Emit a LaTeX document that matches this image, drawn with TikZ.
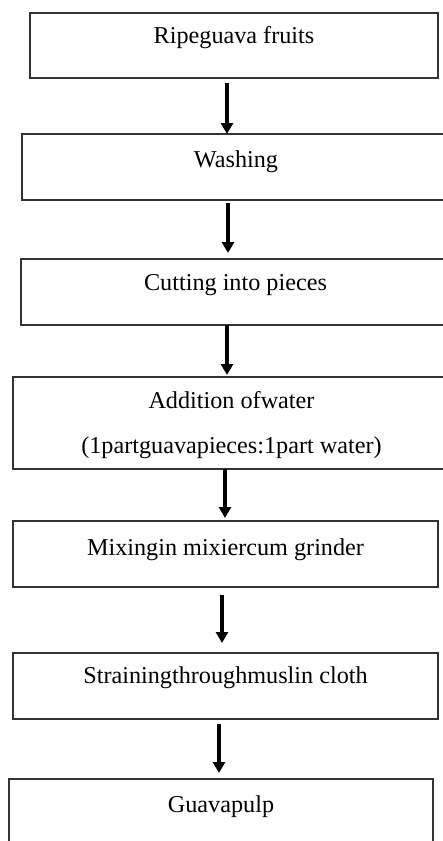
\documentclass[tikz,border=0pt]{standalone}
\usepackage{fontspec}
\setmainfont{Liberation Serif}
\usetikzlibrary{arrows.meta}
\begin{document}
\begin{tikzpicture}[x=1pt,y=1pt,
  box/.style={draw=black!80,line width=1.2pt,rectangle,inner sep=0pt,outer sep=0pt},
  lbl/.style={anchor=base,inner sep=0pt,font=\fontsize{24.2}{28}\selectfont},
  arr/.style={line width=3.6pt,-{Triangle[width=12pt,length=11pt]}}]
\useasboundingbox (0,0) rectangle (443,-841);
% process boxes
\node[box,minimum width=408pt,minimum height=65pt] (b1) at (234,-45.5) {};
\node[box,minimum width=428pt,minimum height=66pt] (b2) at (236,-167) {};
\node[box,minimum width=429pt,minimum height=66pt] (b3) at (235.5,-292) {};
\node[box,minimum width=437pt,minimum height=92pt] (b4) at (231.5,-423) {};
\node[box,minimum width=425pt,minimum height=66pt] (b5) at (225.5,-554) {};
\node[box,minimum width=425pt,minimum height=66pt] (b6) at (225.5,-686) {};
\node[box,minimum width=424pt,minimum height=81pt] (b7) at (221,-819.5) {};
% step labels
\node[lbl] (t1) at ([yshift=-30pt]b1.north) {Ripeguava fruits};
\node[lbl] (t2) at ([yshift=-33pt]b2.north) {Washing};
\node[lbl] (t3) at ([yshift=-31pt]b3.north) {Cutting into pieces};
\node[lbl] (t4) at ([yshift=-31pt]b4.north) {Addition ofwater};
\node[lbl] (t4b) at ([yshift=-76pt]b4.north) {(1partguavapieces:1part water)};
\node[lbl] (t5) at ([yshift=-34pt]b5.north) {Mixingin mixiercum grinder};
\node[lbl] (t6) at ([yshift=-30pt]b6.north) {Strainingthroughmuslin cloth};
\node[lbl] (t7) at ([yshift=-33pt]b7.north) {Guavapulp};
% arrow columns
\coordinate (c1) at (227,0);
\coordinate (c2) at (228,0);
\coordinate (c3) at (227,0);
\coordinate (c4) at (225,0);
\coordinate (c5) at (222,0);
\coordinate (c6) at (219,0);
% connectors
\draw[arr,shorten <=5pt] (b1.south -| c1) -- (b2.north -| c1);
\draw[arr,shorten <=3pt,shorten >=6pt] (b2.south -| c2) -- (b3.north -| c2);
\draw[arr,shorten >=2pt] (b3.south -| c3) -- (b4.north -| c3);
\draw[arr,shorten >=3pt] (b4.south -| c4) -- (b5.north -| c4);
\draw[arr,shorten <=8pt,shorten >=10pt] (b5.south -| c5) -- (b6.north -| c5);
\draw[arr,shorten <=5pt,shorten >=6pt] (b6.south -| c6) -- (b7.north -| c6);
\end{tikzpicture}
\end{document}
